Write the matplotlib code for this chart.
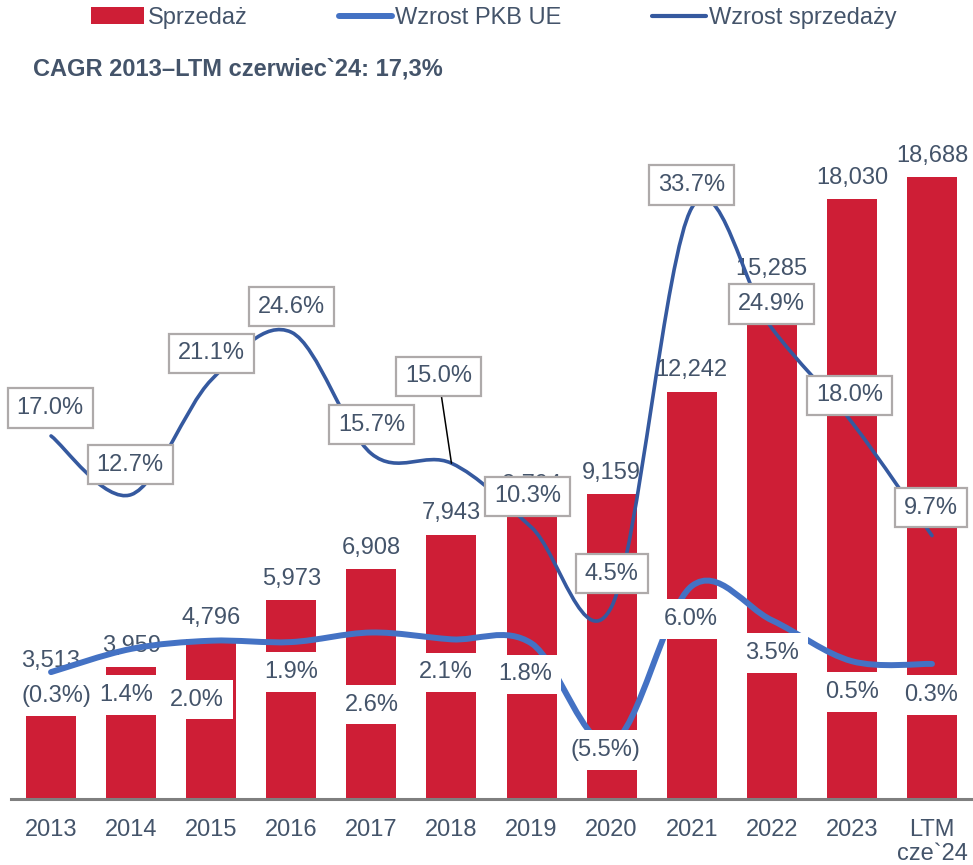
import matplotlib
matplotlib.use("Agg")
import matplotlib.pyplot as plt
from matplotlib.path import Path
from matplotlib.patches import PathPatch, Patch
from matplotlib.lines import Line2D

plt.rcParams['font.family'] = ['Liberation Sans', 'DejaVu Sans']

# ---------------- data ----------------
categories = ["2013", "2014", "2015", "2016", "2017", "2018", "2019", "2020",
              "2021", "2022", "2023", "LTM\ncze`24"]
sales = [3513, 3959, 4796, 5973, 6908, 7943, 8794, 9159, 12242, 15285, 18030, 18688]
eu_gdp_growth = [-0.3, 1.4, 2.0, 1.9, 2.6, 2.1, 1.8, -5.5, 6.0, 3.5, 0.5, 0.3]
sales_growth = [17.0, 12.7, 21.1, 24.6, 15.7, 15.0, 10.3, 4.5, 33.7, 24.9, 18.0, 9.7]
legend_labels = ["Sprzedaż", "Wzrost PKB UE", "Wzrost sprzedaży"]
title_text = "CAGR 2013–LTM czerwiec`24: 17,3%"

# ---------------- style / layout ----------------
RED = "#CE1E36"
LIGHT = "#4472C4"
DARK = "#35599F"
TXT = "#44546A"
FS = 17

# label offsets in pixels (dx, dy with y downward)
sales_growth_off = [(-1, -28), (-1, -30), (0, -26.5), (0, -25.5), (0, -29), (-13, -87),
                    (-4, -31), (0, -33), (0, -23), (0, -24), (-2, -27), (-1, -28)]
gdp_off = [(5, 24), (-5, 46), (-14, 59), (0, 30), (1, 72), (-6, 33),
           (-6, 31), (-6, 7), (-1, 33), (0, 33), (0, 31), (-1, 31)]

W, H = 973, 865
fig = plt.figure(figsize=(W / 100, H / 100), dpi=100)
ax = fig.add_axes([11 / W, (H - 799) / H, 961 / W, 699 / H])
ax2 = ax.twinx()

x = list(range(len(categories)))
ax.bar(x, sales, width=0.625, color=RED, zorder=2)
ax.set_xlim(-0.5, 11.5)
ax.set_ylim(0, 699 / 0.03328)
ax2.set_ylim((668 - 799) / 13.65, (668 - 100) / 13.65)

for a in (ax, ax2):
    for s in ("top", "right", "left"):
        a.spines[s].set_visible(False)
    a.set_yticks([])
ax2.spines["bottom"].set_visible(False)
ax.spines["bottom"].set_color("#7F7F7F")
ax.spines["bottom"].set_linewidth(2.2)
ax.set_xticks(x)
ax.set_xticklabels(categories, fontsize=FS, color=TXT, linespacing=1.12)
ax.tick_params(axis="x", length=0, pad=14.5)

# bar value labels
for i, v in enumerate(sales):
    ax.annotate(f"{v:,}", (i, v), xytext=(0, 11), textcoords="offset points",
                ha="center", va="baseline", fontsize=FS, color=TXT, zorder=3)


def smooth_path(xs, ys):
    n = len(xs)
    verts = [(xs[0], ys[0])]
    codes = [Path.MOVETO]
    for i in range(n - 1):
        p0 = i - 1 if i > 0 else i
        p3 = i + 2 if i + 2 < n else i + 1
        c1 = (xs[i] + (xs[i + 1] - xs[p0]) / 6, ys[i] + (ys[i + 1] - ys[p0]) / 6)
        c2 = (xs[i + 1] - (xs[p3] - xs[i]) / 6, ys[i + 1] - (ys[p3] - ys[i]) / 6)
        verts += [c1, c2, (xs[i + 1], ys[i + 1])]
        codes += [Path.CURVE4] * 3
    return Path(verts, codes)


ax2.add_patch(PathPatch(smooth_path(x, eu_gdp_growth), facecolor="none", edgecolor=LIGHT,
                        lw=4.3, capstyle="round", joinstyle="round", zorder=2))
ax2.add_patch(PathPatch(smooth_path(x, sales_growth), facecolor="none", edgecolor=DARK,
                        lw=2.6, capstyle="round", joinstyle="round", zorder=3))


def label_box(x0, y0, width, height, mutation_size):
    px = 0.38 * mutation_size
    py = 0.37 * mutation_size
    return Path([(x0 - px, y0 - py), (x0 + width + px, y0 - py),
                 (x0 + width + px, y0 + height + py), (x0 - px, y0 + height + py),
                 (x0 - px, y0 - py)], closed=True)


def pct(v):
    return f"({abs(v):.1f}%)" if v < 0 else f"{v:.1f}%"


k = 72 / 100
for i, v in enumerate(eu_gdp_growth):
    dx, dy = gdp_off[i]
    ax2.annotate(pct(v), (i, v), xytext=(dx * k, -dy * k), textcoords="offset points",
                 ha="center", va="center", fontsize=FS, color=TXT, zorder=5,
                 bbox=dict(boxstyle=label_box, facecolor="white", edgecolor="none"))

for i, v in enumerate(sales_growth):
    dx, dy = sales_growth_off[i]
    arrow = None
    if abs(dy) > 50:
        arrow = dict(arrowstyle="-", color="black", lw=1.1, shrinkA=0, shrinkB=0)
    ax2.annotate(pct(v), (i, v), xytext=(dx * k, -dy * k), textcoords="offset points",
                 ha="center", va="center", fontsize=FS, color=TXT, zorder=6,
                 arrowprops=arrow,
                 bbox=dict(boxstyle=label_box, facecolor="white", edgecolor="#AEAAAA", lw=1.6))

# title
fig.text(33 / W, 1 - 69 / H, title_text, fontsize=FS, fontweight="bold", color=TXT,
         ha="left", va="center")

# legend
handles = [Patch(facecolor=RED, edgecolor="none"),
           Line2D([], [], color=LIGHT, lw=4.3, solid_capstyle="round"),
           Line2D([], [], color=DARK, lw=3.0, solid_capstyle="round")]
fig.legend(handles, legend_labels, loc="center", bbox_to_anchor=(494 / W, 1 - 18 / H),
           ncol=3, frameon=False, fontsize=FS, handlelength=2.25, handletextpad=0.15,
           columnspacing=3.85, labelcolor=TXT, borderpad=0, borderaxespad=0)

fig.savefig("out.png", dpi=100)
